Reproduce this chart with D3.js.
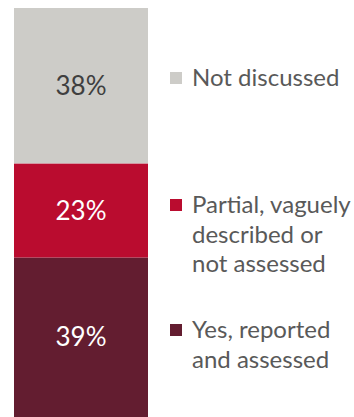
<!DOCTYPE html>
<html>
<head>
<meta charset="utf-8">
<script src="https://cdn.jsdelivr.net/npm/d3@7/dist/d3.min.js"></script>
<style>
  html, body { margin: 0; padding: 0; background: #fff; }
  svg { display: block; }
</style>
</head>
<body>
<svg id="chart" width="354" height="417"></svg>
<script>
// Share of studies by how the item was handled (stacked from bottom to top)
const categories = ["Yes, reported and assessed", "Partial, vaguely described or not assessed", "Not discussed"];
const values = [39, 23, 38];
const legendLines = [
  ["Yes, reported", "and assessed"],
  ["Partial, vaguely", "described or", "not assessed"],
  ["Not discussed"]
];
const colors = ["#631d30", "#ba0c2f", "#cdccc8"];
const labelColors = ["#ffffff", "#ffffff", "#3f3f3f"];

const font = "Lato, 'Open Sans', sans-serif";
const svg = d3.select("#chart");

const x = d3.scaleBand().domain(["all"]).range([14, 148]).padding(0);
const y = d3.scaleLinear().domain([0, 100]).range([417, 8]);

// cumulative stacking
let acc = 0;
const stacked = values.map((v, i) => {
  const d = { key: categories[i], v, y0: acc, y1: acc + v, i };
  acc += v;
  return d;
});

svg.append("g").selectAll("rect")
  .data(stacked)
  .join("rect")
  .attr("x", x("all"))
  .attr("width", x.bandwidth())
  .attr("y", d => y(d.y1))
  .attr("height", d => y(d.y0) - y(d.y1))
  .attr("fill", d => colors[d.i]);

svg.append("g").selectAll("text")
  .data(stacked)
  .join("text")
  .attr("x", x("all") + x.bandwidth() / 2)
  .attr("y", d => y((d.y0 + d.y1) / 2))
  .attr("dy", "0.35em")
  .attr("text-anchor", "middle")
  .attr("font-family", font)
  .attr("font-size", 26)
  .attr("fill", d => labelColors[d.i])
  .text(d => d.v + "%");

// legend, one block per series, first line aligned with the swatch
const legendTop = [330, 205, 78];
const legend = svg.append("g").selectAll("g")
  .data(stacked)
  .join("g")
  .attr("transform", d => `translate(170, ${legendTop[d.i]})`);

legend.append("rect")
  .attr("x", 0)
  .attr("y", -6)
  .attr("width", 12)
  .attr("height", 12)
  .attr("fill", d => colors[d.i]);

legend.each(function (d) {
  const g = d3.select(this);
  legendLines[d.i].forEach((line, k) => {
    g.append("text")
      .attr("x", 22)
      .attr("y", k * 29.5)
      .attr("dy", "0.35em")
      .attr("font-family", font)
      .attr("font-size", 24)
      .attr("fill", "#595959")
      .text(line);
  });
});
</script>
</body>
</html>
